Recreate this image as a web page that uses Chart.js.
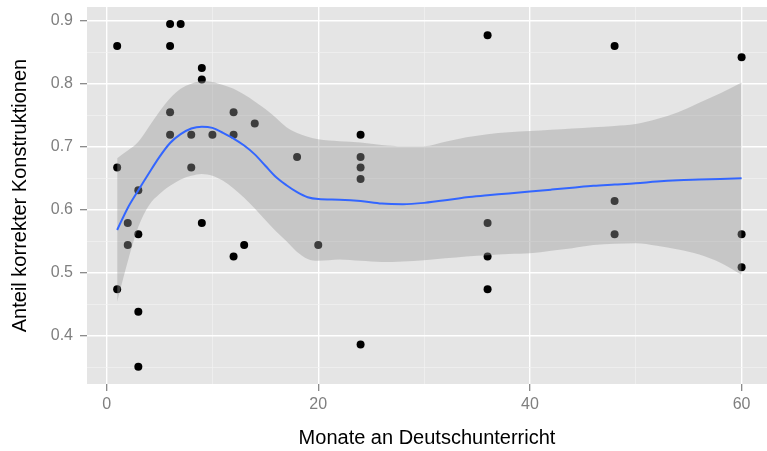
<!DOCTYPE html>
<html>
<head>
<meta charset="utf-8">
<script src="https://cdn.jsdelivr.net/npm/chart.js@4/dist/chart.umd.min.js"></script>
<style>
  html, body { margin: 0; padding: 0; background: #fff; }
  canvas { display: block; }
</style>
</head>
<body>
<canvas id="plot" width="767" height="451"></canvas>
<script>
// Observed learners: months of German lessons vs. share of correct constructions
const months = [1, 1, 1, 2, 2, 3, 3, 3, 3, 6, 7, 6, 6, 6, 8, 8, 9, 9, 9, 10, 12, 12, 12, 13, 14, 18, 20,
  24, 24, 24, 24, 24, 36, 36, 36, 36, 48, 48, 48, 60, 60, 60];
const correct = [0.860, 0.667, 0.474, 0.579, 0.544, 0.631, 0.561, 0.438, 0.351, 0.895, 0.895, 0.860, 0.755, 0.719,
  0.719, 0.667, 0.825, 0.807, 0.579, 0.719, 0.755, 0.719, 0.526, 0.544, 0.737, 0.684, 0.544,
  0.719, 0.684, 0.667, 0.649, 0.386, 0.877, 0.579, 0.526, 0.474, 0.860, 0.614, 0.561, 0.842, 0.561, 0.509];

// Smoothed fit with its confidence band
const smoothX = [1, 2, 3, 4, 5, 6, 7, 8, 9, 10, 11, 12, 13, 14, 15, 16, 17, 18, 19, 20,
  22, 24, 26, 28, 30, 32, 34, 36, 38, 40, 42, 44, 46, 48, 50, 52, 54, 56, 58, 60];
const smoothFit = [0.568, 0.603, 0.631, 0.658, 0.684, 0.706, 0.720, 0.729, 0.732, 0.730, 0.722, 0.713, 0.702,
  0.688, 0.670, 0.652, 0.639, 0.628, 0.620, 0.617, 0.616, 0.614, 0.610, 0.609, 0.611, 0.615, 0.620, 0.623,
  0.626, 0.629, 0.632, 0.635, 0.638, 0.640, 0.642, 0.645, 0.647, 0.648, 0.649, 0.650];
const smoothUpper = [0.682, 0.694, 0.708, 0.732, 0.756, 0.777, 0.792, 0.800, 0.804, 0.803, 0.798, 0.792, 0.783,
  0.772, 0.760, 0.746, 0.731, 0.722, 0.716, 0.712, 0.709, 0.707, 0.703, 0.701, 0.701, 0.708, 0.715, 0.720,
  0.723, 0.725, 0.727, 0.729, 0.731, 0.733, 0.736, 0.744, 0.755, 0.770, 0.785, 0.802];
const smoothLower = [0.454, 0.518, 0.573, 0.607, 0.625, 0.638, 0.648, 0.654, 0.657, 0.654, 0.646, 0.634, 0.619,
  0.602, 0.584, 0.566, 0.550, 0.533, 0.522, 0.519, 0.521, 0.519, 0.517, 0.518, 0.520, 0.523, 0.526, 0.528,
  0.530, 0.531, 0.535, 0.539, 0.544, 0.546, 0.547, 0.543, 0.537, 0.529, 0.516, 0.497];

const xMajor = [0, 20, 40, 60];
const xMinor = [10, 30, 50];
const yMajor = [0.4, 0.5, 0.6, 0.7, 0.8, 0.9];
const yMinor = [0.35, 0.45, 0.55, 0.65, 0.75, 0.85];

const FONT = "'Liberation Sans', Arial, Helvetica, sans-serif";

function toPoints(xs, ys) {
  return xs.map((x, i) => ({ x: x, y: ys[i] }));
}

function tickList(major, minor) {
  const all = major.map(v => ({ value: v, minor: false }))
    .concat(minor.map(v => ({ value: v, minor: true })));
  return all.sort((a, b) => a.value - b.value);
}

// grey panel behind the grid
const panelBackground = {
  id: 'panelBackground',
  beforeDraw(chart) {
    const { ctx, chartArea: a } = chart;
    ctx.save();
    ctx.fillStyle = '#E5E5E5';
    ctx.fillRect(a.left, a.top, a.right - a.left, a.bottom - a.top);
    ctx.restore();
  }
};

function gridOptions() {
  return {
    color: ctx => (ctx.tick && ctx.tick.minor) ? '#F2F2F2' : '#FFFFFF',
    lineWidth: ctx => (ctx.tick && ctx.tick.minor) ? 0.7 : 1.4,
    drawTicks: true,
    tickLength: 7,
    tickColor: ctx => (ctx.tick && ctx.tick.minor) ? 'rgba(0,0,0,0)' : '#7F7F7F',
    tickWidth: 1.2
  };
}

// no extra room for edge labels: the panel spans the full plotting box
function noEdgePadding(scale) {
  scale.paddingTop = 0;
  scale.paddingBottom = 0;
  scale.paddingLeft = 0;
  scale.paddingRight = 0;
}

const bandFill = 'rgba(153,153,153,0.4)';

new Chart(document.getElementById('plot'), {
  type: 'line',
  data: {
    datasets: [
      {
        label: 'Beobachtungen',
        data: toPoints(months, correct),
        showLine: false,
        pointRadius: 4,
        pointBorderWidth: 0,
        pointBackgroundColor: '#000000',
        order: 3
      },
      {
        label: 'oben',
        data: toPoints(smoothX, smoothUpper),
        borderWidth: 0,
        pointRadius: 0,
        cubicInterpolationMode: 'monotone',
        backgroundColor: bandFill,
        fill: '+1',
        order: 2
      },
      {
        label: 'unten',
        data: toPoints(smoothX, smoothLower),
        borderWidth: 0,
        pointRadius: 0,
        cubicInterpolationMode: 'monotone',
        fill: false,
        order: 2
      },
      {
        label: 'Glättung',
        data: toPoints(smoothX, smoothFit),
        borderColor: '#3366FF',
        borderWidth: 2,
        pointRadius: 0,
        cubicInterpolationMode: 'monotone',
        fill: false,
        order: 1
      }
    ]
  },
  options: {
    responsive: false,
    animation: false,
    layout: { autoPadding: false, padding: { top: 7, right: 0, bottom: 0, left: 0 } },
    plugins: {
      legend: { display: false },
      tooltip: { enabled: false }
    },
    scales: {
      x: {
        type: 'linear',
        min: -1.85,
        max: 62.4,
        border: { display: false },
        grid: gridOptions(),
        afterBuildTicks: scale => { scale.ticks = tickList(xMajor, xMinor); },
        afterFit: scale => { scale.height = 67; noEdgePadding(scale); },
        ticks: {
          autoSkip: false,
          maxRotation: 0,
          padding: 4,
          color: '#7F7F7F',
          font: { family: FONT, size: 16 },
          callback: (value, i, ticks) => ticks[i].minor ? '' : String(value)
        },
        title: {
          display: true,
          text: 'Monate an Deutschunterricht',
          color: '#000000',
          font: { family: FONT, size: 20 },
          padding: { top: 0, bottom: 1 }
        }
      },
      y: {
        type: 'linear',
        min: 0.3235,
        max: 0.9219,
        border: { display: false },
        grid: gridOptions(),
        afterBuildTicks: scale => { scale.ticks = tickList(yMajor, yMinor); },
        afterFit: scale => { scale.width = 87; noEdgePadding(scale); },
        ticks: {
          autoSkip: false,
          padding: 7,
          color: '#7F7F7F',
          font: { family: FONT, size: 16 },
          callback: (value, i, ticks) => ticks[i].minor ? '' : value.toFixed(1)
        },
        title: {
          display: true,
          text: 'Anteil korrekter Konstruktionen',
          color: '#000000',
          font: { family: FONT, size: 20 },
          padding: { top: 8, bottom: 0 }
        }
      }
    }
  },
  plugins: [panelBackground]
});
</script>
</body>
</html>
